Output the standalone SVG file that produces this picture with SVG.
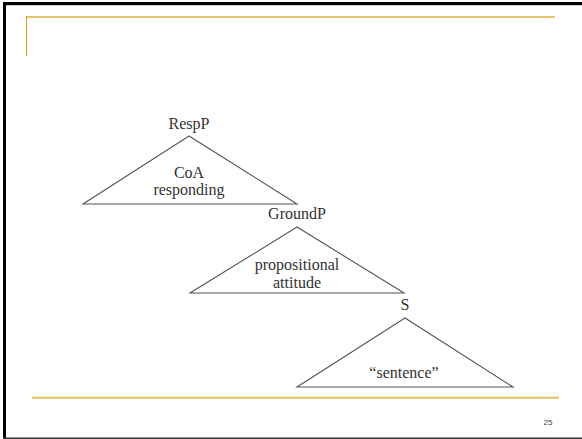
<svg xmlns="http://www.w3.org/2000/svg" width="582" height="439" viewBox="0 0 582 439">
<style>
.tri{fill:none;stroke:#555;stroke-width:1.1}
.lbl{font-family:"Liberation Serif",serif;font-size:16px;fill:#333;text-anchor:middle}
.pg{font-family:"Liberation Sans",sans-serif;font-size:8px;fill:#444;text-anchor:middle}
</style>
<rect x="0" y="0" width="582" height="439" fill="#fff"/>
<g id="frame">
<rect x="3" y="2" width="579" height="3" fill="#000"/>
<rect x="3" y="5" width="579" height="1" fill="#ccc"/>
<rect x="3" y="2" width="3" height="437" fill="#000"/>
<rect x="3" y="437.5" width="579" height="1.5" fill="#333"/>
<rect x="26" y="16" width="529" height="2" fill="#e2c26a"/>
<rect x="26" y="16" width="1" height="40" fill="#d4a017"/>
<rect x="32" y="396.5" width="527" height="1" fill="#e8cf8a"/>
<rect x="32" y="397.5" width="527" height="1" fill="#d4a017"/>
<text class="pg" x="548" y="425">25</text>
</g>
<g id="RespP">
<polygon class="tri" points="189,136 83,204 297,204"/>
<text class="lbl" x="189" y="129">RespP</text>
<text class="lbl" x="189" y="178">CoA</text>
<text class="lbl" x="189" y="195">responding</text>
</g>
<g id="GroundP">
<polygon class="tri" points="297,227 190,293 404,293"/>
<text class="lbl" x="297" y="219">GroundP</text>
<text class="lbl" x="297" y="270">propositional</text>
<text class="lbl" x="297" y="288">attitude</text>
</g>
<g id="S">
<polygon class="tri" points="405,318 297,387 513,387"/>
<text class="lbl" x="405" y="310">S</text>
<text class="lbl" x="404" y="378">“sentence”</text>
</g>
</svg>
